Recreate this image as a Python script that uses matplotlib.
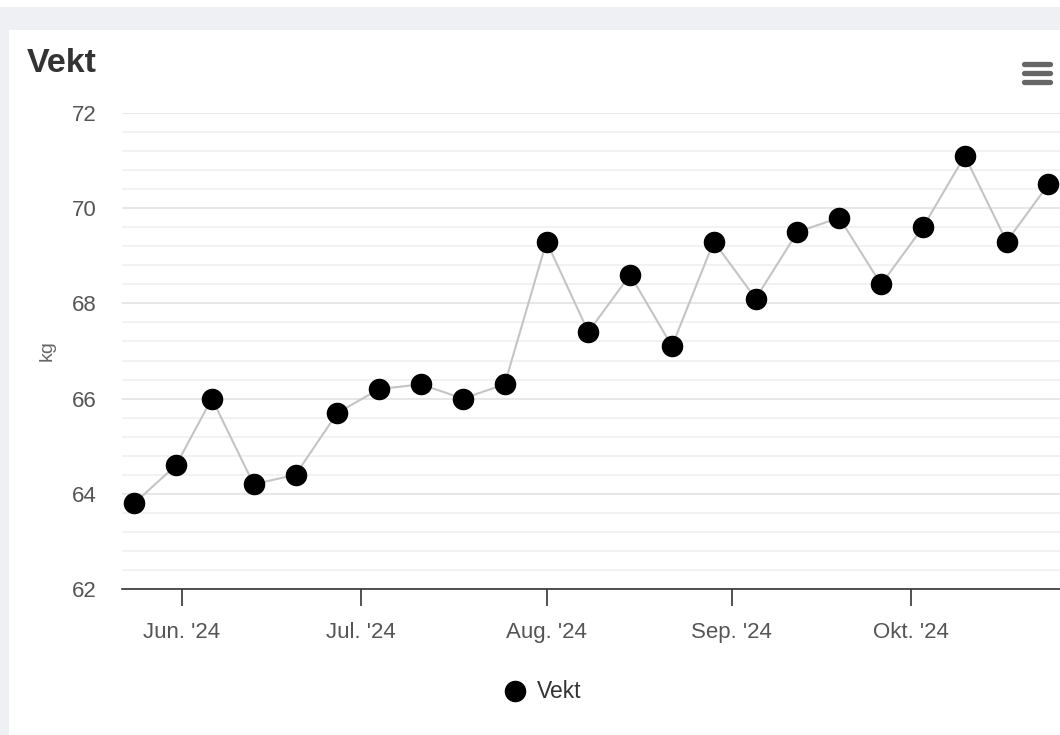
"""Weekly body weight chart (Vekt)."""

from datetime import date

import matplotlib.dates as mdates
import matplotlib.pyplot as plt
import matplotlib.ticker as mticker
from matplotlib.lines import Line2D
from matplotlib.patches import Rectangle

plt.rcParams["font.family"] = ["Liberation Sans", "DejaVu Sans"]

# Weekly weigh-ins
DATES = [
    date(2024, 5, 24), date(2024, 5, 31), date(2024, 6, 6), date(2024, 6, 13),
    date(2024, 6, 20), date(2024, 6, 27), date(2024, 7, 4), date(2024, 7, 11),
    date(2024, 7, 18), date(2024, 7, 25), date(2024, 8, 1), date(2024, 8, 8),
    date(2024, 8, 15), date(2024, 8, 22), date(2024, 8, 29), date(2024, 9, 5),
    date(2024, 9, 12), date(2024, 9, 19), date(2024, 9, 26), date(2024, 10, 3),
    date(2024, 10, 10), date(2024, 10, 17), date(2024, 10, 24),
]
WEIGHT_KG = [
    63.8, 64.6, 66.0, 64.2, 64.4, 65.7, 66.2, 66.3, 66.0, 66.3, 69.3, 67.4,
    68.6, 67.1, 69.3, 68.1, 69.5, 69.8, 68.4, 69.6, 71.1, 69.3, 70.5,
]
MONTH_TICKS = [date(2024, 6, 1), date(2024, 7, 1), date(2024, 8, 1),
               date(2024, 9, 1), date(2024, 10, 1)]
MONTH_LABELS = ["Jun. '24", "Jul. '24", "Aug. '24", "Sep. '24", "Okt. '24"]

W, H = 1060, 735
fig = plt.figure(figsize=(W / 100, H / 100), dpi=100)
fig.patch.set_facecolor("white")

# page background and white card
fig.add_artist(Rectangle((0, 0), 1, 1 - 7 / H, transform=fig.transFigure,
                         facecolor="#eef0f3", edgecolor="none", zorder=-3))
fig.add_artist(Rectangle((9 / W, 0), 1, 1 - 30 / H, transform=fig.transFigure,
                         facecolor="white", edgecolor="none", zorder=-2))

ax = fig.add_axes([122 / W, 146 / H, 942 / W, 476 / H])
ax.set_facecolor("none")

ax.plot(DATES, WEIGHT_KG, color="#c4c4c4", linewidth=1.5, zorder=2,
        marker="o", markersize=14.5, markerfacecolor="black",
        markeredgecolor="black", clip_on=False)

# x scale: Jun 1 at px 182, Oct 1 at px 911
px_per_day = (911 - 182) / (date(2024, 10, 1) - date(2024, 6, 1)).days
x0 = mdates.date2num(date(2024, 6, 1))
ax.set_xlim(x0 - 60 / px_per_day, x0 + (1064 - 182) / px_per_day)
ax.set_ylim(62, 72)

ax.set_xticks(mdates.date2num(MONTH_TICKS))
ax.set_xticklabels(MONTH_LABELS)
ax.yaxis.set_major_locator(mticker.MultipleLocator(2))
ax.yaxis.set_minor_locator(mticker.MultipleLocator(0.4))

ax.grid(axis="y", which="major", color="#e3e3e3", linewidth=1.2, zorder=0)
ax.grid(axis="y", which="minor", color="#f0f0f0", linewidth=1.2, zorder=0)
ax.set_axisbelow(True)

for side in ("top", "right", "left"):
    ax.spines[side].set_visible(False)
ax.spines["bottom"].set_color("#333333")
ax.spines["bottom"].set_linewidth(1.2)

ax.tick_params(axis="x", which="major", length=12, width=1.2, color="#333333",
               labelsize=16, labelcolor="#555555", pad=11.5, direction="out")
ax.tick_params(axis="y", which="both", length=0, labelsize=16,
               labelcolor="#555555", pad=18)

ax.set_ylabel("kg", fontsize=14, color="#666666", labelpad=12)

fig.text(27 / W, 1 - 63 / H, "Vekt", fontsize=24.5, fontweight="bold",
         color="#333333", va="center", ha="left")

# context menu icon
for yy in (64, 73, 82):
    fig.add_artist(Line2D([1024 / W, 1050 / W], [1 - yy / H, 1 - yy / H],
                          transform=fig.transFigure, color="#666666",
                          linewidth=3.8, solid_capstyle="round"))

# legend
fig.add_artist(Line2D([515 / W], [1 - 691 / H], transform=fig.transFigure,
                      marker="o", markersize=14.5, color="black"))
fig.text(537 / W, 1 - 691 / H, "Vekt", fontsize=16.5, color="#333333",
         va="center", ha="left")

fig.savefig("out.png", dpi=100)
